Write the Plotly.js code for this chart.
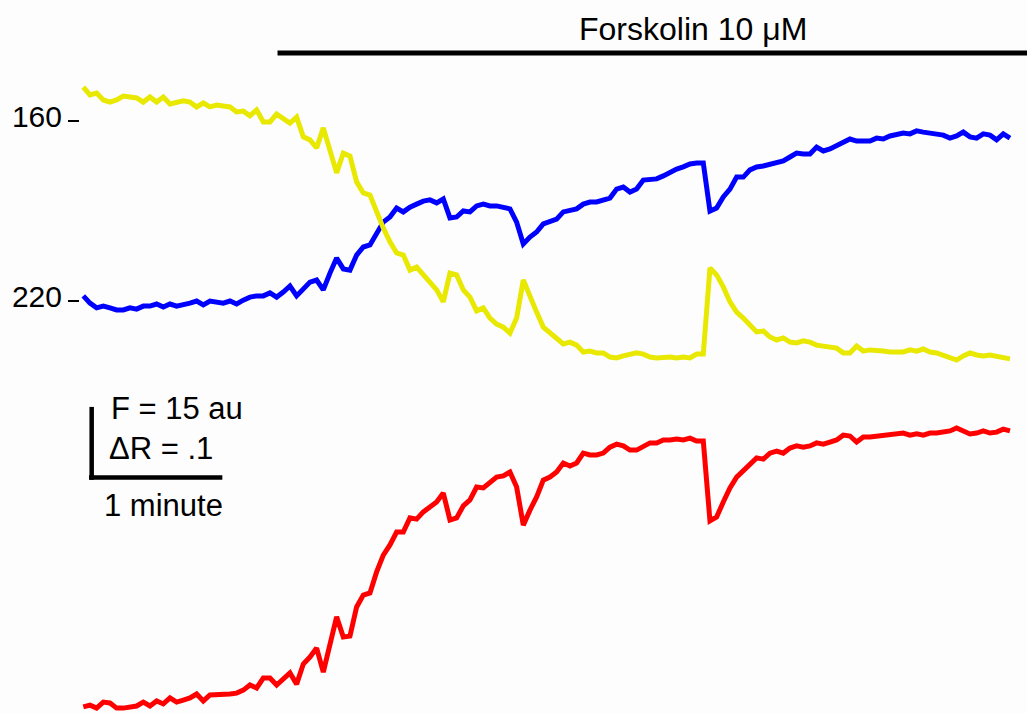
<!DOCTYPE html>
<html>
<head>
<meta charset="utf-8">
<script src="https://cdn.plot.ly/plotly-3.0.1.min.js"></script>
<style>html,body{margin:0;padding:0;background:#fdfdfd;}#chart{width:1027px;height:713px;}</style>
</head>
<body>
<div id="chart"></div>
<script>
// sample times (s), one sample every 3 s
const timeSec = [0,3,6,9,12,15,18,21,24,27,30,33,36,39,42,45,48,51,54,57,
  60,63,66,69,72,75,78,81,84,87,90,93,96,99,102,105,108,111,114,117,
  120,123,126,129,132,135,138,141,144,147,150,153,156,159,162,165,168,171,174,177,
  180,183,186,189,192,195,198,201,204,207,210,213,216,219,222,225,228,231,234,237,
  240,243,246,249,252,255,258,261,264,267,270,273,276,279,282,285,288,291,294,297,
  300,303,306,309,312,315,318,321,324,327,330,333,336,339,342,345,348,351,354,357,
  360,363,366,369,372,375,378,381,384,387,390,393,396,399,402,405,408,411,414,417];

// yellow trace (F, au; axis inverted)
const yellowF = [148.7,151.3,150.7,153.0,153.7,153.0,151.7,152.0,152.3,153.7,
  152.0,153.7,152.0,154.3,153.7,153.3,153.7,155.3,154.0,155.3,
  154.7,155.0,155.3,157.0,156.7,158.3,156.3,160.3,160.3,157.7,
  159.0,160.7,158.7,165.3,166.3,169.0,162.3,169.7,177.3,170.7,
  171.7,180.3,184.0,184.7,190.7,195.7,200.3,204.0,204.7,209.7,
  208.7,211.3,213.7,216.3,220.3,210.7,211.3,216.3,218.7,223.3,
  222.3,225.7,227.7,228.7,230.7,225.7,213.0,218.7,223.7,228.7,
  230.7,232.3,234.3,233.7,234.7,237.0,236.7,237.3,237.3,238.7,
  239.0,238.3,238.0,237.3,237.7,238.7,239.0,238.7,238.7,239.0,
  238.7,239.0,237.7,237.7,209.0,211.3,215.3,220.3,223.7,225.7,
  228.0,230.3,230.0,232.0,233.0,232.3,233.7,234.0,233.3,233.7,
  234.7,235.0,235.3,235.7,237.3,237.3,235.0,236.7,236.3,236.3,
  236.7,237.0,237.0,237.0,236.3,236.7,236.0,237.0,237.3,238.0,
  238.7,239.7,238.3,237.3,238.0,238.3,238.0,238.3,239.0,239.3];

// blue trace (F, au)
const blueF = [218.3,220.7,222.3,221.7,222.3,223.0,223.0,222.3,222.7,221.7,
  221.7,221.0,222.0,221.0,221.7,221.3,220.7,220.0,221.3,220.0,
  220.3,220.7,220.0,221.0,219.7,218.7,218.3,218.3,217.3,218.7,
  217.0,215.0,218.3,215.7,213.7,213.0,216.3,210.7,205.7,209.3,
  209.7,204.7,202.0,201.3,197.3,193.7,192.0,189.0,190.3,188.7,
  187.7,186.7,186.3,187.3,186.0,192.3,192.0,190.0,190.3,188.3,
  187.7,188.3,188.3,189.0,189.3,193.7,201.0,198.7,197.0,194.3,
  193.3,192.7,190.3,189.7,189.3,187.7,187.0,187.0,186.3,185.7,
  182.7,182.0,183.7,182.7,179.7,179.3,179.3,178.3,177.0,176.0,
  175.3,174.3,174.0,174.0,190.0,189.0,185.3,182.7,178.7,178.7,
  176.3,175.3,175.0,174.3,173.7,173.3,172.0,170.7,171.0,171.0,
  168.7,170.0,169.3,168.3,167.0,166.0,166.7,166.7,166.7,165.7,
  166.0,165.0,164.7,164.0,164.3,163.3,163.7,164.0,164.0,164.7,
  165.7,165.0,163.7,165.3,165.7,164.3,164.7,166.3,164.3,165.7];

// red trace (ratio, drawn on the same inverted scale)
const redR = [355.3,354.7,355.7,353.7,354.0,355.7,355.7,355.3,355.0,353.7,
  355.0,353.3,354.3,352.3,353.7,353.0,352.3,351.0,353.3,351.3,
  351.3,351.3,351.0,350.7,349.7,348.0,349.0,345.7,345.7,348.0,
  346.0,344.0,347.7,341.0,338.7,335.7,343.7,333.7,325.3,332.0,
  331.7,322.0,318.0,317.3,310.3,304.7,301.3,297.0,297.0,292.3,
  292.7,290.3,288.7,287.0,284.0,293.0,292.3,288.3,286.3,282.0,
  282.3,280.3,278.7,278.3,277.0,282.0,294.7,289.7,285.3,279.7,
  278.7,277.0,274.0,275.0,274.0,270.7,271.3,271.3,270.7,268.7,
  267.7,268.3,269.7,269.7,268.3,267.3,267.3,266.3,266.3,266.0,
  266.3,265.7,266.7,266.7,293.3,292.0,287.0,282.3,278.7,276.7,
  274.7,272.3,272.7,270.7,270.0,270.7,269.0,268.3,268.7,268.3,
  267.3,267.7,267.0,266.3,264.7,265.0,267.0,265.3,265.3,265.0,
  264.7,264.3,264.3,264.0,264.7,264.3,264.7,264.0,264.0,263.7,
  263.3,262.3,263.3,264.3,264.0,263.3,264.0,263.7,262.7,263.3];

const yTickVals = [160, 220];
const yTickText = ['160', '220'];
const drugLabel = 'Forskolin 10 \u03bcM';
const drugStart = 87.4;          // s
const scaleLabels = ['F = 15 au', '\u0394R = .1', '1 minute'];
const scaleMinute = 60;          // s

const FONT = 'Liberation Sans, Arial, Helvetica, sans-serif';
const LW = 5;

const traces = [
  {x: timeSec, y: redR, mode: 'lines', line: {color: '#ff0000', width: LW}, name: 'ratio'},
  {x: timeSec, y: blueF, mode: 'lines', line: {color: '#0000ff', width: LW}, name: 'blue'},
  {x: timeSec, y: yellowF, mode: 'lines', line: {color: '#e8e800', width: LW}, name: 'yellow'}
];

const sbX0 = 2.57, sbYtop = 255.3, sbYbot = 278.8;
const layout = {
  width: 1027, height: 713,
  margin: {l: 80, r: 0, t: 0, b: 0, pad: 0},
  paper_bgcolor: '#fdfdfd', plot_bgcolor: '#fdfdfd',
  showlegend: false,
  xaxis: {range: [-1.485, 424.67], visible: false, fixedrange: true},
  yaxis: {
    range: [357.33, 119.667], tickvals: yTickVals, ticktext: yTickText,
    ticks: 'outside', ticklen: 11, tickwidth: 2.5, tickcolor: '#000',
    ticklabelshift: 5,
    showgrid: false, zeroline: false, showline: false,
    tickfont: {family: FONT, size: 30, color: '#000'}, fixedrange: true
  },
  shapes: [
    {type: 'line', xref: 'x', yref: 'y', x0: drugStart, x1: 430, y0: 137.3, y1: 137.3,
     line: {color: '#000', width: 5}},
    {type: 'line', xref: 'x', yref: 'y', x0: sbX0 + 1.2, x1: sbX0 + 1.2, y0: sbYtop, y1: sbYbot + 0.8,
     line: {color: '#000', width: 4.5}},
    {type: 'line', xref: 'x', yref: 'y', x0: sbX0, x1: sbX0 + scaleMinute, y0: sbYbot, y1: sbYbot,
     line: {color: '#000', width: 4.5}}
  ],
  annotations: [
    {text: drugLabel, xref: 'x', yref: 'y', x: 274.4, y: 129.2, xanchor: 'center', yanchor: 'middle',
     showarrow: false, font: {family: FONT, size: 32, color: '#000'}},
    {text: scaleLabels[0], xref: 'x', yref: 'y', x: 11.6, y: 255.8, xanchor: 'left', yanchor: 'middle',
     showarrow: false, font: {family: FONT, size: 31, color: '#000'}},
    {text: scaleLabels[1], xref: 'x', yref: 'y', x: 10.6, y: 269.0, xanchor: 'left', yanchor: 'middle',
     showarrow: false, font: {family: FONT, size: 31, color: '#000'}},
    {text: scaleLabels[2], xref: 'x', yref: 'y', x: 36.1, y: 288.3, xanchor: 'center', yanchor: 'middle',
     showarrow: false, font: {family: FONT, size: 31, color: '#000'}}
  ]
};

Plotly.newPlot('chart', traces, layout, {staticPlot: true, displayModeBar: false});
</script>
</body>
</html>
